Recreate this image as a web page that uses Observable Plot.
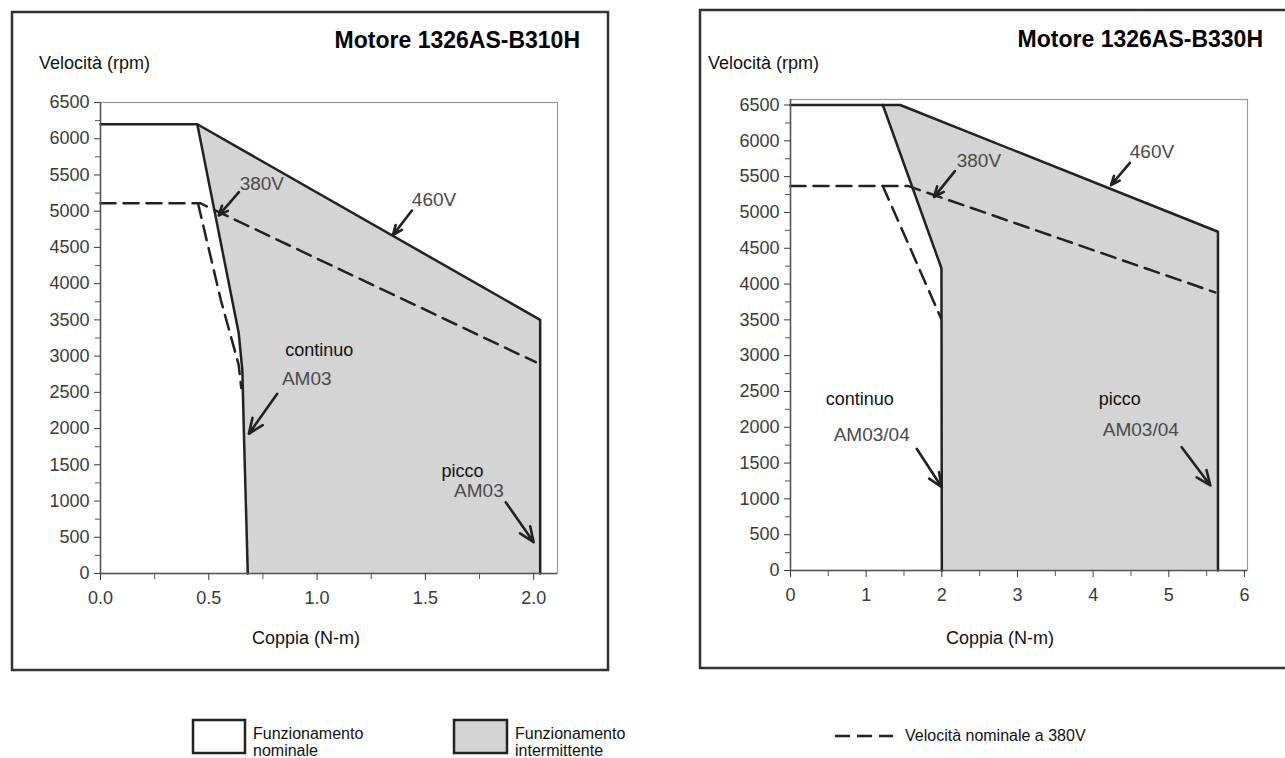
<!DOCTYPE html>
<html>
<head>
<meta charset="utf-8">
<script src="https://cdn.jsdelivr.net/npm/d3@7"></script>
<script src="https://cdn.jsdelivr.net/npm/@observablehq/plot@0.6"></script>
<style>
  html, body { margin: 0; padding: 0; background: #fff; }
  body { width: 1285px; height: 758px; position: relative; overflow: hidden;
         font-family: 'Liberation Sans', Arial, Helvetica, sans-serif; }
  .abs { position: absolute; }
</style>
</head>
<body>
<div id="overlay" class="abs" style="left:0;top:0"></div>
<div id="left" class="abs" style="left:40px;top:90px"></div>
<div id="right" class="abs" style="left:730px;top:87px"></div>
<script>
// ---------------- DATA ----------------
// Motore 1326AS-B310H  (x = Coppia N-m, y = Velocità rpm)
const b310Peak460 = [
  {x: 0, y: 6200}, {x: 0.447, y: 6200}, {x: 2.03, y: 3500}, {x: 2.03, y: 0}
];
const b310Cont = [
  {x: 0.447, y: 6200}, {x: 0.638, y: 3320}, {x: 0.655, y: 2800}, {x: 0.662, y: 1950}, {x: 0.68, y: 0}
];
const b310Dash380 = [
  {x: 0, y: 5110}, {x: 0.46, y: 5110}, {x: 2.01, y: 2916}
];
const b310DashInner = [
  {x: 0.45, y: 5110}, {x: 0.556, y: 3770}, {x: 0.638, y: 2880}, {x: 0.65, y: 2560}
];
const b310Labels = [
  {x: 0.745, y: 5370, text: "380V", kind: "scan"},
  {x: 1.54, y: 5160, text: "460V", kind: "scan"},
  {x: 1.01, y: 3080, text: "continuo", kind: "plain"},
  {x: 0.952, y: 2680, text: "AM03", kind: "scan"},
  {x: 1.671, y: 1412, text: "picco", kind: "plain"},
  {x: 1.747, y: 1136, text: "AM03", kind: "scan"}
];
const b310Arrows = [
  {x1: 0.639, y1: 5262, x2: 0.546, y2: 4941},
  {x1: 1.438, y1: 5009, x2: 1.35, y2: 4670},
  {x1: 0.816, y1: 2480, x2: 0.685, y2: 1928},
  {x1: 1.871, y1: 984, x2: 2.0, y2: 432}
];
const b310XTicks = [0, 0.5, 1.0, 1.5, 2.0];
const b310XMinor = [0.25, 0.75, 1.25, 1.75];

// Motore 1326AS-B330H
const b330Peak460 = [
  {x: 0, y: 6500}, {x: 1.45, y: 6500}, {x: 5.65, y: 4730}, {x: 5.65, y: 0}
];
const b330Cont = [
  {x: 1.22, y: 6500}, {x: 1.995, y: 4220}, {x: 2.0, y: 0}
];
const b330Dash380 = [
  {x: 0, y: 5370}, {x: 1.55, y: 5370}, {x: 5.614, y: 3883}
];
const b330DashInner = [
  {x: 1.22, y: 5370}, {x: 1.99, y: 3520}
];
const b330Labels = [
  {x: 2.49, y: 5726, text: "380V", kind: "scan"},
  {x: 4.777, y: 5849, text: "460V", kind: "scan"},
  {x: 0.916, y: 2398, text: "continuo", kind: "plain"},
  {x: 1.073, y: 1899, text: "AM03/04", kind: "scan"},
  {x: 4.353, y: 2398, text: "picco", kind: "plain"},
  {x: 4.63, y: 1965, text: "AM03/04", kind: "scan"}
];
const b330Arrows = [
  {x1: 2.173, y1: 5577, x2: 1.896, y2: 5214},
  {x1: 4.486, y1: 5693, x2: 4.236, y2: 5381},
  {x1: 1.668, y1: 1700, x2: 2.0, y2: 1163},
  {x1: 5.17, y1: 1722, x2: 5.55, y2: 1187}
];
const b330XTicks = [0, 1, 2, 3, 4, 5, 6];
const b330XMinor = [0.5, 1.5, 2.5, 3.5, 4.5, 5.5];

const yTicks = [0, 500, 1000, 1500, 2000, 2500, 3000, 3500, 4000, 4500, 5000, 5500, 6000, 6500];
const yMinor = [250, 750, 1250, 1750, 2250, 2750, 3250, 3750, 4250, 4750, 5250, 5750, 6250];

const titles = ["Motore 1326AS-B310H", "Motore 1326AS-B330H"];
const yLabel = "Velocità (rpm)";
const xLabel = "Coppia (N-m)";
const legendItems = [
  ["Funzionamento", "nominale"],
  ["Funzionamento", "intermittente"],
  ["Velocità nominale a 380V"]
];

// ---------------- DRAW ----------------
const FONT = "'Liberation Sans', Arial, Helvetica, sans-serif";
const GRAY = "#d4d4d4";
const INK = "#222";

function panel(o) {
  const fillPoly = [...o.peak.slice(1), ...o.cont.slice().reverse()];
  return Plot.plot({
    width: 527, height: 528,
    marginLeft: 60, marginTop: 12, marginRight: 10, marginBottom: 45,
    style: {fontFamily: FONT, background: "transparent", overflow: "visible"},
    x: {domain: o.xDomain},
    y: {domain: o.yDomain},
    marks: [
      Plot.frame({stroke: "#9a9a9a", strokeWidth: 1.2}),
      Plot.line(fillPoly, {x: "x", y: "y", fill: GRAY, stroke: "none", curve: "linear-closed"}),
      Plot.line(o.dash, {x: "x", y: "y", stroke: INK, strokeWidth: 2.5, strokeDasharray: "15,8"}),
      Plot.line(o.dashInner, {x: "x", y: "y", stroke: INK, strokeWidth: 2.5, strokeDasharray: "15,8"}),
      Plot.line(o.peak, {x: "x", y: "y", stroke: INK, strokeWidth: 2.5}),
      Plot.line(o.cont, {x: "x", y: "y", stroke: INK, strokeWidth: 2.5}),
      Plot.ruleX([0], {stroke: "#555", strokeWidth: 1.5}),
      Plot.ruleY([0], {stroke: "#555", strokeWidth: 1.5}),
      Plot.axisY({ticks: yTicks, tickSize: 6, tickPadding: 5, fontSize: 18, color: "#3a3a3a", label: null, tickFormat: d3.format("d")}),
      Plot.axisY({ticks: yMinor, tickSize: 5, tickFormat: () => "", color: "#555", label: null}),
      Plot.axisX({ticks: o.xTicks, tickSize: 7, tickPadding: 11, fontSize: 18, color: "#3a3a3a", label: null, tickFormat: o.xFmt}),
      Plot.axisX({ticks: o.xMinor, tickSize: 6, tickFormat: () => "", color: "#555", label: null}),
      Plot.text(o.labels.filter(d => d.kind === "plain"), {x: "x", y: "y", text: "text", fontSize: 18, fill: "#111", textAnchor: "middle", lineAnchor: "middle"}),
      Plot.text(o.labels.filter(d => d.kind === "scan"), {x: "x", y: "y", text: "text", fontSize: 19, fill: "#4a4a4a", textAnchor: "middle", lineAnchor: "middle", style: "letter-spacing:-0.6px"}),
      Plot.arrow(o.arrows, {x1: "x1", y1: "y1", x2: "x2", y2: "y2", stroke: INK, strokeWidth: 2.6, headLength: 10, headAngle: 45})
    ]
  });
}

document.getElementById("left").appendChild(panel({
  xDomain: [0, 2.11], yDomain: [0, 6500],
  peak: b310Peak460, cont: b310Cont, dash: b310Dash380, dashInner: b310DashInner,
  labels: b310Labels, arrows: b310Arrows,
  xTicks: b310XTicks, xMinor: b310XMinor, xFmt: d3.format(".1f")
}));
document.getElementById("right").appendChild(panel({
  xDomain: [0, 6.04], yDomain: [0, 6577],
  peak: b330Peak460, cont: b330Cont, dash: b330Dash380, dashInner: b330DashInner,
  labels: b330Labels, arrows: b330Arrows,
  xTicks: b330XTicks, xMinor: b330XMinor, xFmt: d3.format("d")
}));

// overlay: panel boxes, titles, axis titles, legend
const svg = d3.select("#overlay").append("svg")
  .attr("width", 1285).attr("height", 758)
  .style("font-family", FONT);

svg.append("rect").attr("x", 12).attr("y", 12).attr("width", 596).attr("height", 658)
  .attr("fill", "none").attr("stroke", "#333").attr("stroke-width", 2.5);
svg.append("rect").attr("x", 700).attr("y", 10).attr("width", 620).attr("height", 658)
  .attr("fill", "none").attr("stroke", "#333").attr("stroke-width", 2.5);

svg.append("text").attr("x", 580).attr("y", 48).attr("text-anchor", "end")
  .attr("font-size", 23).attr("font-weight", "bold").attr("fill", "#000").text(titles[0]);
svg.append("text").attr("x", 1263).attr("y", 47).attr("text-anchor", "end")
  .attr("font-size", 23).attr("font-weight", "bold").attr("fill", "#000").text(titles[1]);

svg.append("text").attr("x", 39).attr("y", 69).attr("font-size", 18).attr("fill", "#111").text(yLabel);
svg.append("text").attr("x", 708).attr("y", 69).attr("font-size", 18).attr("fill", "#111").text(yLabel);
svg.append("text").attr("x", 306).attr("y", 644).attr("text-anchor", "middle").attr("font-size", 18).attr("fill", "#111").text(xLabel);
svg.append("text").attr("x", 1000).attr("y", 644).attr("text-anchor", "middle").attr("font-size", 18).attr("fill", "#111").text(xLabel);

// legend
svg.append("rect").attr("x", 193).attr("y", 720).attr("width", 52).attr("height", 33)
  .attr("fill", "#fff").attr("stroke", INK).attr("stroke-width", 2.5);
svg.append("rect").attr("x", 454).attr("y", 720).attr("width", 53).attr("height", 33)
  .attr("fill", GRAY).attr("stroke", INK).attr("stroke-width", 2.5);
svg.append("line").attr("x1", 835).attr("x2", 893).attr("y1", 736).attr("y2", 736)
  .attr("stroke", INK).attr("stroke-width", 2.5).attr("stroke-dasharray", "15,7");
[[253, legendItems[0]], [515, legendItems[1]]].forEach(([x, lines]) => {
  lines.forEach((t, i) => {
    svg.append("text").attr("x", x).attr("y", 739 + i * 17).attr("font-size", 16).attr("fill", "#111").text(t);
  });
});
svg.append("text").attr("x", 905).attr("y", 741).attr("font-size", 16).attr("fill", "#111").text(legendItems[2][0]);
</script>
</body>
</html>
